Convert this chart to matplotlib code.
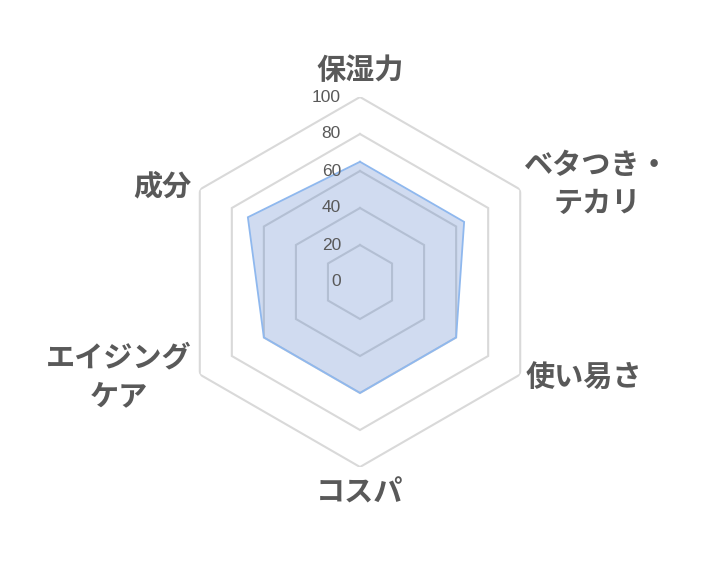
import numpy as np
import matplotlib
matplotlib.use("Agg")
import matplotlib.pyplot as plt

plt.rcParams['font.family'] = ['Noto Sans CJK JP', 'DejaVu Sans']

categories = ["保湿力", "ベタつき・\nテカリ", "使い易さ", "コスパ", "エイジング\nケア", "成分"]
values = [65, 65, 60, 60, 60, 70]
ticks = [0, 20, 40, 60, 80, 100]

W, H = 720, 565
fig = plt.figure(figsize=(W / 100, H / 100), dpi=100)
cx, cy, R = 360, 282, 185
ax = fig.add_axes([(cx - R) / W, (H - cy - R) / H, 2 * R / W, 2 * R / H], projection='polar')
ax.set_theta_offset(np.pi / 2)
ax.set_theta_direction(-1)
ax.set_ylim(0, 100)
ax.grid(False)
ax.spines['polar'].set_visible(False)
ax.set_xticks([])
ax.set_yticks([])
ax.patch.set_alpha(0)

n = len(categories)
ang = np.linspace(0, 2 * np.pi, n, endpoint=False)
ang_c = np.append(ang, ang[0])

for t in ticks[1:]:
    ax.plot(ang_c, [t] * (n + 1), color='#D9D9D9', lw=1.5, zorder=1, solid_joinstyle='miter')

vals_c = values + [values[0]]
ax.fill(ang_c, vals_c, color='#4472C4', alpha=0.25, lw=0, zorder=2)
ax.plot(ang_c, vals_c, color='#8FB8EE', lw=1.3, zorder=3, solid_joinstyle='miter')

for t in ticks:
    ax.annotate(str(t), xy=(0, t), xytext=(-19, 0), textcoords='offset pixels',
                ha='right', va='center', fontsize=12.5, color='#595959',
                fontfamily=['Liberation Sans', 'DejaVu Sans'], zorder=4)

label_pos = [(360, 70), (597, 184), (584, 378), (360, 493), (119, 377), (162, 186)]
for lab, (x, y) in zip(categories, label_pos):
    fig.text(x / W, 1 - y / H, lab, ha='center', va='center', fontsize=21, fontweight='bold',
             color='#595959', linespacing=1.35, multialignment='center')

fig.savefig('out.png', dpi=100, facecolor='white')
